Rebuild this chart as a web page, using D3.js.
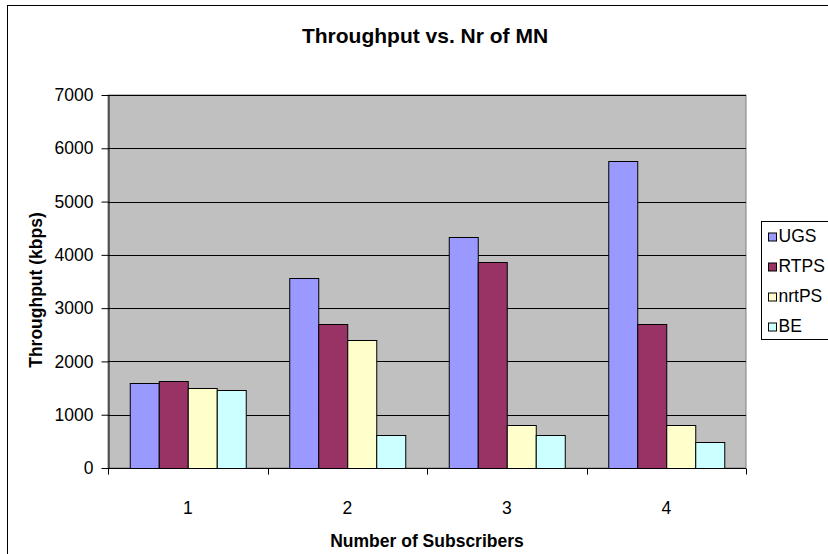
<!DOCTYPE html>
<html>
<head>
<meta charset="utf-8">
<script src="https://cdn.jsdelivr.net/npm/d3@7"></script>
<style>
  html, body { margin: 0; padding: 0; background: #fff; }
  svg { display: block; font-family: "Liberation Sans", Arial, sans-serif; }
</style>
</head>
<body>
<svg id="chart" width="828" height="554"></svg>
<script>
'use strict';

// ---- Data -------------------------------------------------------------------

const categories = ['1', '2', '3', '4'];
const seriesNames = ['UGS', 'RTPS', 'nrtPS', 'BE'];
const ugs   = [1600, 3560, 4340, 5760];
const rtps  = [1630, 2710, 3870, 2710];
const nrtps = [1500, 2410, 800, 800];
const be    = [1470, 620, 620, 490];
const yTicks = [0, 1000, 2000, 3000, 4000, 5000, 6000, 7000];

const seriesValues = [ugs, rtps, nrtps, be];
const colors = ['#9999FF', '#993366', '#FFFFCC', '#CCFFFF'];

// ---- Layout -----------------------------------------------------------------

const plot = { left: 108, right: 746, top: 95, bottom: 468 };
const FONT = 17.5;

const svg = d3.select('#chart');

// Outer chart frame (cut off at right and bottom like the source).
svg.append('rect')
  .attr('x', 7.5).attr('y', 5.5)
  .attr('width', 840).attr('height', 570)
  .attr('fill', '#fff').attr('stroke', '#000').attr('stroke-width', 1);

const x0 = d3.scaleBand()
  .domain(categories)
  .range([plot.left, plot.right])
  .paddingInner(0).paddingOuter(0);

// Excel gap width 150% -> bars take 4 / 5.5 of a category.
const x1 = d3.scaleBand()
  .domain(seriesNames)
  .range([0, x0.bandwidth() * 4 / 5.5]);
const groupOffset = x0.bandwidth() * 0.75 / 5.5;

const y = d3.scaleLinear().domain([0, 7000]).range([plot.bottom, plot.top]);

// Plot background.
svg.append('rect')
  .attr('x', plot.left).attr('y', plot.top)
  .attr('width', plot.right - plot.left).attr('height', plot.bottom - plot.top)
  .attr('fill', '#C0C0C0').attr('stroke', '#808080').attr('stroke-width', 1);

// Gridlines.
svg.append('g')
  .selectAll('line')
  .data(yTicks.filter(d => d > 0))
  .join('line')
  .attr('x1', plot.left).attr('x2', plot.right)
  .attr('y1', d => Math.round(y(d)) + 0.5).attr('y2', d => Math.round(y(d)) + 0.5)
  .attr('stroke', '#000').attr('stroke-width', 1);

// Bars.
const rows = categories.map((c, i) => ({
  cat: c,
  vals: seriesNames.map((s, j) => ({ s, v: seriesValues[j][i], color: colors[j] }))
}));

svg.append('g')
  .selectAll('g')
  .data(rows)
  .join('g')
  .attr('transform', d => `translate(${x0(d.cat) + groupOffset},0)`)
  .selectAll('rect')
  .data(d => d.vals)
  .join('rect')
  .attr('x', d => Math.round(x1(d.s)) + 0.5)
  .attr('y', d => Math.round(y(d.v)) + 0.5)
  .attr('width', x1.bandwidth())
  .attr('height', d => Math.round(plot.bottom) - Math.round(y(d.v)))
  .attr('fill', d => d.color)
  .attr('stroke', '#000').attr('stroke-width', 1);

// Y axis.
const yAxis = svg.append('g')
  .attr('transform', `translate(${plot.left + 0.5},0)`)
  .call(d3.axisLeft(y).tickValues(yTicks).tickFormat(d3.format('d'))
    .tickSize(7).tickPadding(8).tickSizeOuter(0));
yAxis.select('.domain').attr('stroke', '#000');
yAxis.selectAll('.tick line').attr('stroke', '#000');
yAxis.selectAll('text')
  .attr('font-family', '"Liberation Sans", Arial, sans-serif')
  .attr('font-size', FONT).attr('fill', '#000');

// X axis: ticks between categories.
const xAxis = svg.append('g')
  .attr('transform', `translate(0,${plot.bottom + 0.5})`);
xAxis.append('line')
  .attr('x1', plot.left).attr('x2', plot.right)
  .attr('stroke', '#000');
xAxis.selectAll('line.tk')
  .data(categories.concat(['end']))
  .join('line')
  .attr('class', 'tk')
  .attr('x1', (d, i) => Math.round(plot.left + i * x0.bandwidth()) + 0.5)
  .attr('x2', (d, i) => Math.round(plot.left + i * x0.bandwidth()) + 0.5)
  .attr('y1', 0).attr('y2', 6)
  .attr('stroke', '#000');
xAxis.selectAll('text')
  .data(categories)
  .join('text')
  .attr('x', d => x0(d) + x0.bandwidth() / 2)
  .attr('y', 45)
  .attr('text-anchor', 'middle')
  .attr('font-size', FONT)
  .text(d => d);

// Titles.
svg.append('text')
  .attr('x', 425).attr('y', 43)
  .attr('text-anchor', 'middle')
  .attr('font-size', 21).attr('font-weight', 'bold')
  .text('Throughput vs. Nr of MN');

svg.append('text')
  .attr('x', 427).attr('y', 547)
  .attr('text-anchor', 'middle')
  .attr('font-size', FONT).attr('font-weight', 'bold')
  .text('Number of Subscribers');

svg.append('text')
  .attr('transform', 'translate(42,290) rotate(-90)')
  .attr('text-anchor', 'middle')
  .attr('font-size', FONT).attr('font-weight', 'bold')
  .text('Throughput (kbps)');

// Legend.
const legend = svg.append('g').attr('transform', 'translate(761.5,221.5)');
legend.append('rect')
  .attr('width', 80).attr('height', 118)
  .attr('fill', '#fff').attr('stroke', '#000');
const item = legend.selectAll('g.item')
  .data(seriesNames)
  .join('g')
  .attr('class', 'item')
  .attr('transform', (d, i) => `translate(7,${15.5 + i * 30})`);
item.append('rect')
  .attr('x', 0).attr('y', -4)
  .attr('width', 8).attr('height', 8)
  .attr('fill', (d, i) => colors[i])
  .attr('stroke', '#000');
item.append('text')
  .attr('x', 10).attr('y', 5)
  .attr('font-size', FONT)
  .text(d => d);
</script>
</body>
</html>
